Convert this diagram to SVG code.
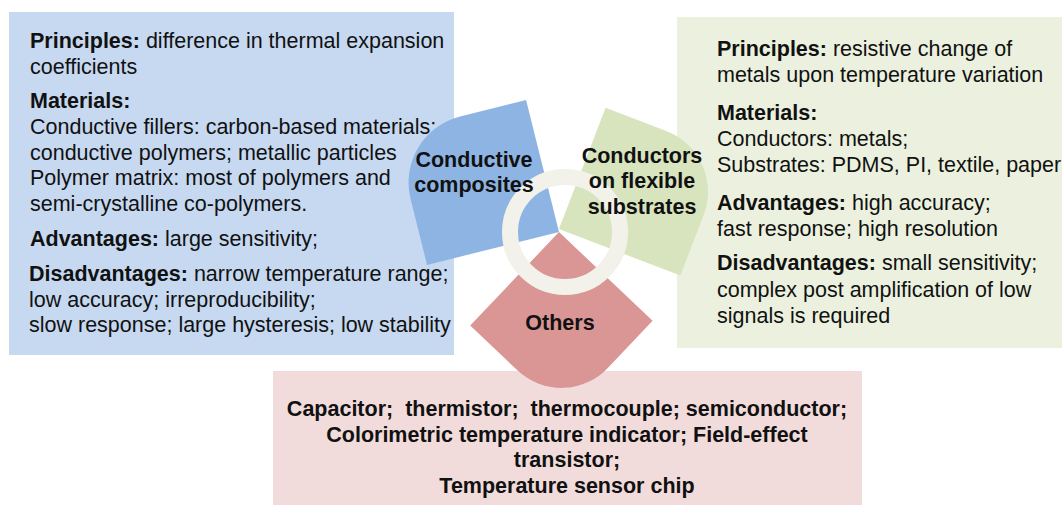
<svg xmlns="http://www.w3.org/2000/svg" width="1062" height="505" viewBox="0 0 1062 505">
  <style>
    text { font-family: "Liberation Sans", Arial, sans-serif; font-size: 21.5px; fill: #111; }
    .b { font-weight: bold; }
    .c { text-anchor: middle; font-weight: bold; }
    .pre { white-space: pre; }
  </style>
  <defs>
    <!-- square sector with the far corner rounded; origin is the hub corner -->
    <path id="petal136" d="M0,0 H136 V68 A68,68 0 0 1 68,136 H0 Z"/>
    <path id="petal130" d="M0,0 H130 V65 A65,65 0 0 1 65,130 H0 Z"/>
    <path id="petal129" d="M0,0 H129 V64 A64,64 0 0 1 65,129 H0 Z"/>
  </defs>

  <!-- description panels -->
  <g id="panel-composites">
    <rect x="9" y="12" width="445" height="343" fill="#c6d9f1"/>
    <text x="30" y="48"><tspan class="b">Principles:</tspan> difference in thermal expansion</text>
    <text x="30" y="74">coefficients</text>
    <text x="30" y="108" class="b">Materials:</text>
    <text x="30" y="134">Conductive fillers: carbon-based materials;</text>
    <text x="30" y="160">conductive polymers; metallic particles</text>
    <text x="30" y="185">Polymer matrix: most of polymers and</text>
    <text x="30" y="211">semi-crystalline co-polymers.</text>
    <text x="30" y="246"><tspan class="b">Advantages:</tspan> large sensitivity;</text>
    <text x="29" y="281"><tspan class="b">Disadvantages:</tspan> narrow temperature range;</text>
    <text x="29" y="307">low accuracy; irreproducibility;</text>
    <text x="29" y="332">slow response; large hysteresis; low stability</text>
  </g>

  <g id="panel-flexible">
    <rect x="677" y="17" width="385" height="331" fill="#ebf1de"/>
    <text x="717" y="56"><tspan class="b">Principles:</tspan> resistive change of</text>
    <text x="717" y="82">metals upon temperature variation</text>
    <text x="717" y="120" class="b">Materials:</text>
    <text x="717" y="146">Conductors: metals;</text>
    <text x="717" y="172">Substrates: PDMS, PI, textile, paper</text>
    <text x="717" y="210"><tspan class="b">Advantages:</tspan> high accuracy;</text>
    <text x="717" y="236">fast response; high resolution</text>
    <text x="717" y="270"><tspan class="b">Disadvantages:</tspan> small sensitivity;</text>
    <text x="717" y="297">complex post amplification of low</text>
    <text x="717" y="323">signals is required</text>
  </g>

  <g id="panel-others">
    <rect x="273" y="371" width="589" height="134" fill="#f2dcdb"/>
    <text x="567" y="416" class="c pre">Capacitor;  thermistor;  thermocouple; semiconductor;</text>
    <text x="567" y="442" class="c">Colorimetric temperature indicator; Field-effect</text>
    <text x="567" y="467" class="c">transistor;</text>
    <text x="567" y="493" class="c">Temperature sensor chip</text>
  </g>

  <!-- three category petals around the hub -->
  <g id="petal-composites">
    <use href="#petal136" transform="translate(559,232) rotate(166)" fill="#8eb4e3"/>
  </g>
  <g id="petal-flexible">
    <use href="#petal130" transform="translate(559,229) rotate(-69)" fill="#d7e4bd"/>
  </g>
  <g id="petal-others">
    <use href="#petal129" transform="translate(559,232) rotate(43.5)" fill="#d99694"/>
  </g>

  <!-- hub ring -->
  <g id="hub">
    <circle cx="565" cy="232" r="55" fill="none" stroke="#f2f2ea" stroke-width="16"/>
  </g>

  <!-- petal captions -->
  <g id="captions">
    <text x="474" y="167" class="c">Conductive</text>
    <text x="474" y="192" class="c">composites</text>
    <text x="642" y="163" class="c">Conductors</text>
    <text x="642" y="188" class="c">on flexible</text>
    <text x="642" y="214" class="c">substrates</text>
    <text x="560" y="330" class="c">Others</text>
  </g>
</svg>
